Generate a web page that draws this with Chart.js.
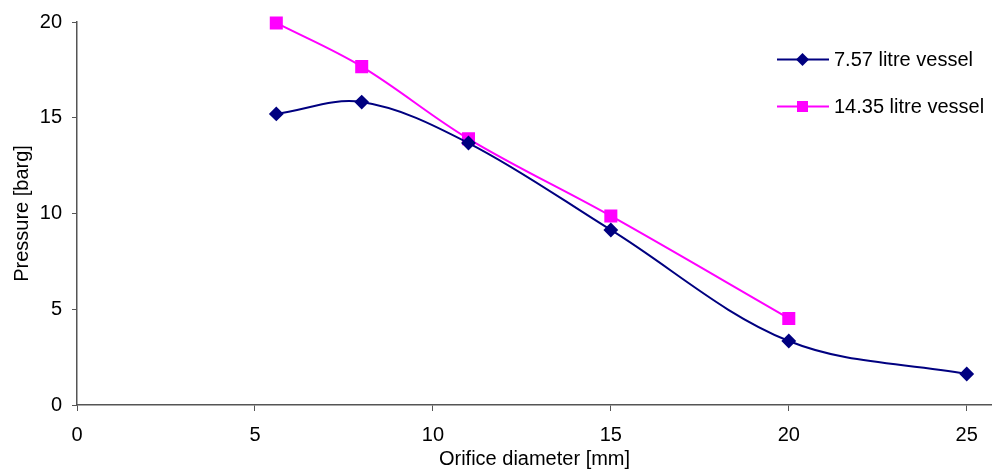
<!DOCTYPE html>
<html>
<head>
<meta charset="utf-8">
<script src="https://cdn.jsdelivr.net/npm/chart.js@4"></script>
<style>
  html, body { margin: 0; padding: 0; background: #ffffff; }
  #wrap { position: relative; width: 992px; height: 475px; }
  #legend { position: absolute; left: 776px; top: 44px; font-family: "Liberation Sans", Arial, sans-serif; font-size: 20px; color: #000; }
  .item { display: flex; align-items: center; height: 30px; margin-bottom: 17px; white-space: nowrap; }
  .item svg { margin-right: 4px; }
</style>
</head>
<body>
<div id="wrap">
  <canvas id="c" width="992" height="475"></canvas>
  <div id="legend"></div>
</div>
<script>
// Orifice diameter [mm] against peak pressure [barg] for two vessel volumes
const diameterSmall = [5.6, 8, 11, 15, 20, 25];
const pressureSmall = [15.2, 15.82, 13.68, 9.14, 3.34, 1.62];
const diameterLarge = [5.6, 8, 11, 15, 20];
const pressureLarge = [19.95, 17.67, 13.9, 9.87, 4.52];
const seriesNames = ['7.57 litre vessel', '14.35 litre vessel'];
const xTicks = [0, 5, 10, 15, 20, 25];
const yTicks = [0, 5, 10, 15, 20];

const FONT = { family: '"Liberation Sans", Arial, sans-serif', size: 20 };
const AXIS = '#555555';

function pairs(xs, ys) { return xs.map((x, i) => ({ x: x, y: ys[i] })); }

const chart = new Chart(document.getElementById('c'), {
  type: 'line',
  data: {
    datasets: [
      {
        label: seriesNames[0],
        data: pairs(diameterSmall, pressureSmall),
        borderColor: '#000080', backgroundColor: '#000080',
        borderWidth: 2, tension: 0.35, clip: false,
        pointStyle: 'rectRot', pointRadius: 6, pointHoverRadius: 6
      },
      {
        label: seriesNames[1],
        data: pairs(diameterLarge, pressureLarge),
        borderColor: '#ff00ff', backgroundColor: '#ff00ff',
        borderWidth: 2, tension: 0.35, clip: false,
        pointStyle: 'rect', pointRadius: 7.8, pointHoverRadius: 7.8
      }
    ]
  },
  options: {
    responsive: false,
    animation: false,
    events: [],
    layout: { autoPadding: false, padding: { top: 22, right: 0, left: 0, bottom: 0 } },
    plugins: { legend: { display: false }, tooltip: { enabled: false } },
    scales: {
      x: {
        type: 'linear', min: 0, max: 25.71,
        afterBuildTicks: s => { s.ticks = xTicks.map(v => ({ value: v })); },
        afterFit: s => { s.height = 70; s.paddingRight = 0; s.paddingLeft = 0; },
        border: { color: AXIS, width: 1.5 },
        grid: { drawOnChartArea: false, drawTicks: true, tickLength: 6, color: AXIS },
        ticks: { font: FONT, color: '#000', padding: 12, maxRotation: 0 },
        title: { display: true, text: 'Orifice diameter [mm]', font: FONT, color: '#000', padding: { top: 0, bottom: 4 } }
      },
      y: {
        min: 0, max: 20,
        afterBuildTicks: s => { s.ticks = yTicks.map(v => ({ value: v })); },
        afterFit: s => { s.width = 77; s.paddingTop = 0; s.paddingBottom = 0; },
        border: { color: AXIS, width: 1.5 },
        grid: { drawOnChartArea: false, drawTicks: true, tickLength: 5, color: AXIS },
        ticks: { font: FONT, color: '#000', padding: 10 },
        title: { display: true, text: 'Pressure [barg]', font: FONT, color: '#000', padding: { top: 10, bottom: 0 } }
      }
    }
  }
});

// HTML legend built from the chart's datasets
const legendEl = document.getElementById('legend');
chart.data.datasets.forEach(ds => {
  const marker = ds.pointStyle === 'rect'
    ? '<rect x="21" y="10" width="11" height="11" fill="' + ds.backgroundColor + '"/>'
    : '<polygon points="26.5,9 33,15.5 26.5,22 20,15.5" fill="' + ds.backgroundColor + '"/>';
  const row = document.createElement('div');
  row.className = 'item';
  row.innerHTML = '<svg width="54" height="30"><line x1="1" y1="15.5" x2="53" y2="15.5" stroke="' +
    ds.borderColor + '" stroke-width="2"/>' + marker + '</svg><span>' + ds.label + '</span>';
  legendEl.appendChild(row);
});
</script>
</body>
</html>
